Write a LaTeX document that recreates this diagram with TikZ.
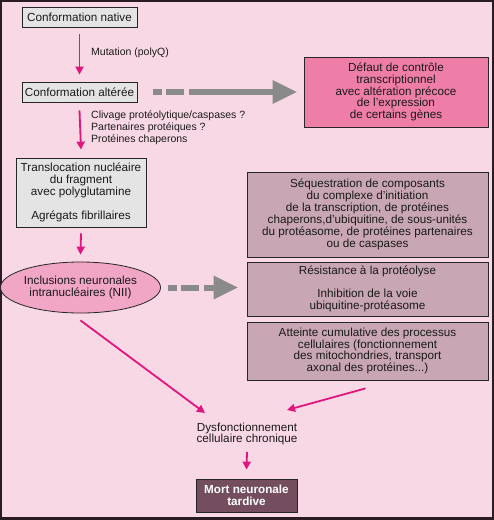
\documentclass[tikz,border=0pt]{standalone}
\usepackage{fontspec}
\setmainfont{Liberation Sans}
\usetikzlibrary{arrows.meta,shapes.geometric}
\definecolor{bgpink}{HTML}{F9D8E5}
\definecolor{frame}{HTML}{2B1B22}
\definecolor{boxgray}{HTML}{E4E4E4}
\definecolor{defpink}{HTML}{EE7DA7}
\definecolor{mauve}{HTML}{C8A6B3}
\definecolor{nipink}{HTML}{F0A6C4}
\definecolor{mortc}{HTML}{744E5E}
\definecolor{magarr}{HTML}{E0157D}
\definecolor{arrgray}{HTML}{8A8A8A}
\definecolor{txt}{HTML}{1A1A1A}
\newcommand\fntbox{\fontsize{11.7}{11.9}\selectfont}
\newcommand\fntlab{\fontsize{10.5}{12}\selectfont}
\begin{document}
\begin{tikzpicture}[x=1pt,y=-1pt,
  box/.style={draw=black!85, line width=0.8pt, inner sep=0pt, align=center, font=\fntbox, text=txt},
  graybox/.style={box, fill=boxgray},
  mbox/.style={box, fill=mauve, minimum width=241pt},
  lab/.style={font=\fntlab, text=txt, inner sep=0pt, align=left, anchor=west},
  parr/.style={draw=magarr, line width=1.8pt, -{Triangle[length=8pt,width=8pt]}},
  garr/.style={draw=arrgray, line width=6pt, dash pattern=on 9pt off 4pt on 18pt off 5pt on 400pt,
     -{Triangle[length=24pt,width=24pt,line width=0pt]}}
]
\fill[bgpink] (0,0) rectangle (494,520);
\useasboundingbox (0,0) rectangle (494,520);
\draw[frame, line width=2pt] (1,1) rectangle (493,519);
\fill[frame] (0,517) rectangle (494,520);

\node[graybox, minimum width=115pt, minimum height=20pt] (native) at (79.5,17) {Conformation native};
\node[graybox, minimum width=115pt, minimum height=20pt] (altered) at (79.5,92) {Conformation altérée};
\node[graybox, minimum width=130pt, minimum height=69pt] (trans) at (81,192.5)
  {Translocation nucléaire\\du fragment\\avec polyglutamine\\[12pt]Agrégats fibrillaires};
\node[box, shape=ellipse, fill=nipink, minimum width=131pt, minimum height=51pt] (nii) at (80.5,287.5)
  {Inclusions neuronales\\intranucléaires (NII)};

\node[box, fill=defpink, minimum width=184pt, minimum height=70pt] (defaut) at (396,92)
  {Défaut de contrôle\\transcriptionnel\\avec altération précoce\\de l’expression\\de certains gènes};
\node[mbox, minimum height=85pt] (seq) at (367.5,214.5)
  {Séquestration de composants\\du complexe d’initiation\\de la transcription, de protéines\\chaperons,d’ubiquitine, de sous-unités\\du protéasome, de protéines partenaires\\ou de caspases};
\node[mbox, minimum height=54pt] (res) at (367.5,289)
  {Résistance à la protéolyse\\[11.5pt]Inhibition de la voie\\ubiquitine-protéasome};
\node[mbox, minimum height=58pt] (att) at (367.5,351)
  {Atteinte cumulative des processus\\cellulaires (fonctionnement\\des mitochondries, transport\\axonal des protéines...)};

\node[font=\fntbox, text=txt, align=center, inner sep=0pt] (dys) at (247,434)
  {Dysfonctionnement\\cellulaire chronique};
\node[box, fill=mortc, text=white, font=\fntbox\bfseries, minimum width=101pt, minimum height=33pt] (mort) at (246.5,495.5)
  {Mort neuronale\\tardive};

\node[lab] (mutlab) at (91,53) {Mutation (polyQ)};
\node[lab] (clivlab) at (91,128) {Clivage protéolytique/caspases ?\\Partenaires protéiques ?\\Protéines chaperons};

\coordinate (d1) at (205,413);
\coordinate (d2) at (287,410);

\draw[parr] ([yshift=-7pt]native.south) -- ([yshift=7pt]altered.north);
\draw[parr] ([yshift=-8pt]altered.south) -- ([yshift=8pt]trans.north);
\draw[parr] ([yshift=-6pt]trans.south) -- ([yshift=7pt]nii.north);
\draw[parr] ([yshift=-7pt]nii.south) -- (d1);
\draw[parr] ([shift={(-2pt,-8pt)}]att.south) -- (d2);
\draw[parr] ([yshift=-6.5pt]dys.south) -- ([yshift=9pt]mort.north);

\draw[garr, shorten <=16pt, shorten >=7pt] (altered.east) -- (altered.east -| defaut.west);
\draw[garr, shorten <=7pt, shorten >=9pt] (nii.east) -- (nii.east -| res.west);
\end{tikzpicture}
\end{document}
